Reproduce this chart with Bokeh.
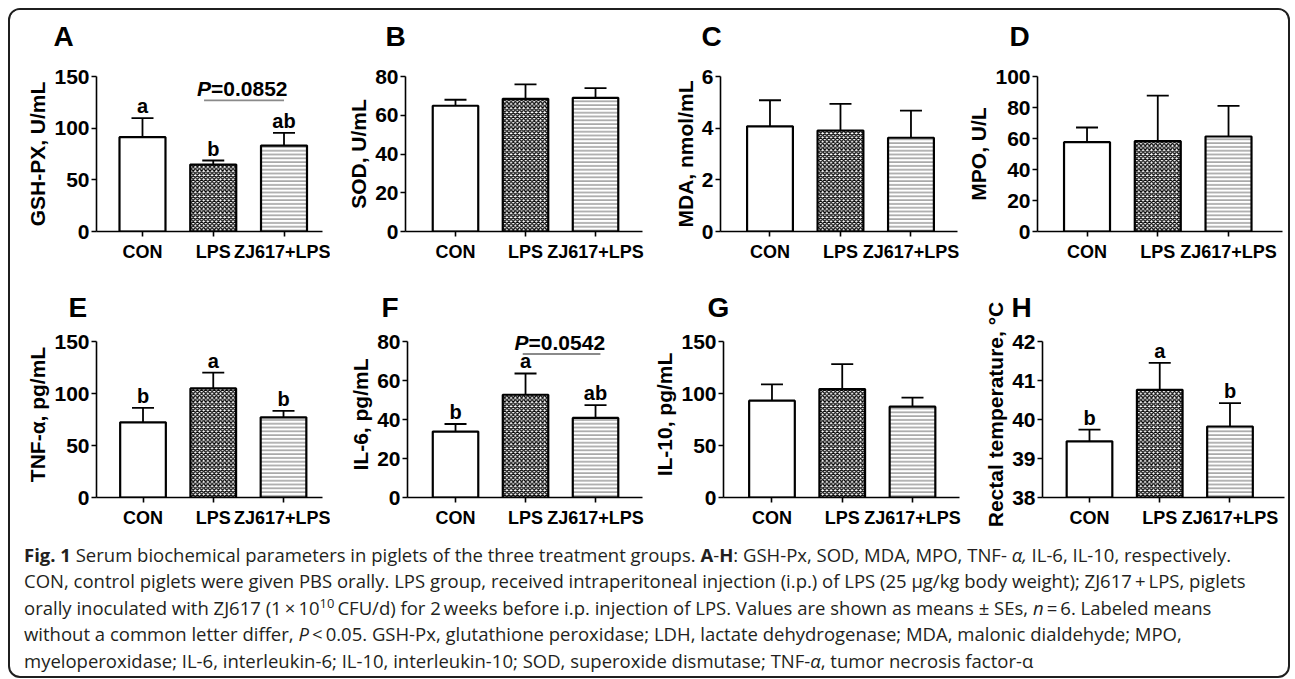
from bokeh.plotting import figure
from bokeh.models import (ColumnDataSource, Whisker, TeeHead, LabelSet,
                          FixedTicker, Range1d, Div)
from bokeh.layouts import row, column
from bokeh.embed import file_html
from bokeh.resources import INLINE
from bokeh.core.properties import value

# ---------------- data ----------------
groups = ["CON", "LPS", "ZJ617+LPS"]

gshpx_mean = [91.3, 64.8, 83.2]
gshpx_se = [18.4, 3.9, 12.3]
gshpx_letters = ["a", "b", "ab"]

sod_mean = [64.9, 68.5, 69.0]
sod_se = [3.1, 7.4, 5.0]

mda_mean = [4.07, 3.91, 3.63]
mda_se = [1.01, 1.03, 1.05]

mpo_mean = [57.6, 58.3, 61.3]
mpo_se = [9.5, 29.4, 19.8]

tnf_mean = [72.3, 104.9, 77.1]
tnf_se = [13.8, 15.1, 6.1]
tnf_letters = ["b", "a", "b"]

il6_mean = [33.8, 52.7, 40.8]
il6_se = [3.9, 10.9, 6.6]
il6_letters = ["b", "a", "ab"]

il10_mean = [93.1, 104.3, 87.3]
il10_se = [15.6, 24.0, 8.7]

temp_mean = [39.44, 40.76, 39.82]
temp_se = [0.30, 0.69, 0.60]
temp_letters = ["b", "a", "b"]

# P-value brackets: (text, x_from, x_to, y)
gshpx_p = ("=0.0852", 1.87, 3.0, 126.8)
il6_p = ("=0.0542", 1.96, 3.07, 73.6)

panels = [
    dict(letter="A", ylabel="GSH-PX, U/mL", mean=gshpx_mean, se=gshpx_se,
         yticks=[0, 50, 100, 150], sig=gshpx_letters, pval=gshpx_p),
    dict(letter="B", ylabel="SOD, U/mL", mean=sod_mean, se=sod_se,
         yticks=[0, 20, 40, 60, 80], sig=None, pval=None),
    dict(letter="C", ylabel="MDA, nmol/mL", mean=mda_mean, se=mda_se,
         yticks=[0, 2, 4, 6], sig=None, pval=None),
    dict(letter="D", ylabel="MPO, U/L", mean=mpo_mean, se=mpo_se,
         yticks=[0, 20, 40, 60, 80, 100], sig=None, pval=None),
    dict(letter="E", ylabel="TNF-\u03b1, pg/mL", mean=tnf_mean, se=tnf_se,
         yticks=[0, 50, 100, 150], sig=tnf_letters, pval=None),
    dict(letter="F", ylabel="IL-6, pg/mL", mean=il6_mean, se=il6_se,
         yticks=[0, 20, 40, 60, 80], sig=il6_letters, pval=il6_p),
    dict(letter="G", ylabel="IL-10, pg/mL", mean=il10_mean, se=il10_se,
         yticks=[0, 50, 100, 150], sig=None, pval=None),
    dict(letter="H", ylabel="Rectal temperature, \u00b0C", mean=temp_mean, se=temp_se,
         yticks=[38, 39, 40, 41, 42], sig=temp_letters, pval=None),
]

# ---------------- layout / style ----------------
geom = [
    dict(left=86, fw=226, right=8, xr=(0.350, 3.544), lab=-43),
    dict(left=75, fw=237, right=8, xr=(0.286, 3.671), lab=-20),
    dict(left=70, fw=237, right=5, xr=(0.298, 3.660), lab=-19),
    dict(left=75, fw=245, right=4, xr=(0.300, 3.763), lab=-28),
    dict(left=86, fw=226, right=8, xr=(0.338, 3.555), lab=-28),
    dict(left=77, fw=235, right=8, xr=(0.314, 3.671), lab=-26),
    dict(left=71, fw=236, right=5, xr=(0.310, 3.669), lab=-16),
    dict(left=78, fw=242, right=4, xr=(0.331, 3.776), lab=-31),
]
# head: extra frame space (px) above the top tick, so labels there are not clipped
row_v = [dict(top=84, fh=155, bottom=34, tstand=50, shift=-18, head=0),
         dict(top=76, fh=156, bottom=43, tstand=38, shift=0, head=10)]

group_style = [
    dict(),
    dict(hatch_pattern="diagonal_cross", hatch_color="black", hatch_scale=4.2, hatch_weight=1.3),
    dict(hatch_pattern="horizontal_line", hatch_color="#6a6a6a", hatch_scale=3.8, hatch_weight=1.0),
]

FONT = "Liberation Sans"
BAR_W = 0.65


def make_panel(cfg, g, v):
    y0, y1 = cfg["yticks"][0], cfg["yticks"][-1]
    head = v["head"]
    y_top = y1 + head * (y1 - y0) / v["fh"]
    p = figure(frame_width=g["fw"], frame_height=v["fh"] + head,
               min_border_left=g["left"], min_border_right=g["right"],
               min_border_top=v["top"] - head, min_border_bottom=v["bottom"],
               x_range=Range1d(*g["xr"]), y_range=Range1d(y0, y_top),
               toolbar_location=None, output_backend="svg", title=cfg["letter"])
    p.title.text_font = FONT
    p.title.text_font_size = "28px"
    p.title.text_font_style = "bold"
    p.title.text_color = "black"
    p.title.align = "left"
    p.title.offset = g["lab"]
    p.title.standoff = v["tstand"] - 2 * head
    p.outline_line_color = None
    p.xgrid.visible = False
    p.ygrid.visible = False
    p.background_fill_color = "white"
    p.border_fill_color = "white"

    xs = [i + 1 for i in range(len(groups))]

    if cfg["pval"]:
        txt, xa, xb, yy = cfg["pval"]
        xc = (xa + xb) / 2
        psrc = ColumnDataSource(dict(x0=[xa], x1=[xb], y=[yy], xc=[xc],
                                     ptxt=["P"], rest=[txt]))
        p.segment(x0="x0", y0="y", x1="x1", y1="y", source=psrc,
                  line_color="#8a8a8a", line_width=1.8)
        p.add_layout(LabelSet(source=psrc, x="xc", y="y", text="ptxt",
                              x_offset=-33, y_offset=4, text_align="right",
                              text_baseline="alphabetic", text_font=value(FONT),
                              text_font_size="21px", text_font_style="bold italic",
                              text_color="black"))
        p.add_layout(LabelSet(source=psrc, x="xc", y="y", text="rest",
                              x_offset=-33, y_offset=4, text_align="left",
                              text_baseline="alphabetic", text_font=value(FONT),
                              text_font_size="21px", text_font_style="bold",
                              text_color="black"))

    for i, st in enumerate(group_style):
        src = ColumnDataSource(dict(x=[xs[i]], top=[cfg["mean"][i]]))
        p.vbar(x="x", top="top", bottom=y0, width=BAR_W, source=src,
               fill_color="white", line_color="black", line_width=2.2, **st)

    upper = [m + s for m, s in zip(cfg["mean"], cfg["se"])]
    esrc = ColumnDataSource(dict(x=xs, mean=cfg["mean"], upper=upper,
                                 sig=cfg["sig"] if cfg["sig"] else [""] * 3))
    wh = Whisker(source=esrc, base="x", lower="mean", upper="upper",
                 line_width=1.8, line_color="black",
                 upper_head=TeeHead(size=22, line_width=1.8, line_color="black"),
                 lower_head=None, level="overlay")
    p.add_layout(wh)

    if cfg["sig"]:
        p.add_layout(LabelSet(source=esrc, x="x", y="upper", text="sig",
                              y_offset=5, text_align="center",
                              text_baseline="alphabetic", text_font=value(FONT),
                              text_font_size="20px", text_font_style="bold",
                              text_color="black"))

    # axes
    p.xaxis.ticker = FixedTicker(ticks=xs)
    p.xaxis.major_label_overrides = {x: gname for x, gname in zip(xs, groups)}
    p.yaxis.ticker = FixedTicker(ticks=cfg["yticks"])
    p.yaxis.bounds = (y0, y1)
    p.yaxis.axis_label = cfg["ylabel"]
    for ax in (p.xaxis[0], p.yaxis[0]):
        ax.axis_line_width = 1.6
        ax.axis_line_color = "black"
        ax.major_tick_line_width = 1.6
        ax.major_tick_line_color = "black"
        ax.major_tick_out = 5
        ax.major_tick_in = 0
        ax.minor_tick_line_color = None
        ax.major_label_text_font = FONT
        ax.major_label_text_font_style = "bold"
        ax.major_label_text_color = "black"
    p.xaxis.major_label_text_font_size = "18px"
    p.xaxis.major_label_standoff = 5
    p.yaxis.major_label_text_font_size = "21px"
    p.yaxis.major_label_standoff = 2
    p.yaxis.axis_label_text_font = FONT
    p.yaxis.axis_label_text_font_size = "21px"
    p.yaxis.axis_label_text_font_style = "bold"
    p.yaxis.axis_label_text_color = "black"
    p.yaxis.axis_label_standoff = 2
    return p


figs = [make_panel(panels[i], geom[i], row_v[i // 4]) for i in range(8)]

caption_html = (
    '<div style="font-family: \'Open Sans\', Lato, sans-serif; font-size: 18.5px; '
    'line-height: 26.4px; white-space: nowrap; color: #231f20;">'
    '<b>Fig. 1</b> Serum biochemical parameters in piglets of the three treatment groups. '
    '<b>A</b>-<b>H</b>: GSH-Px, SOD, MDA, MPO, TNF- <i>\u03b1,</i> IL-6, IL-10, respectively.<br>'
    'CON, control piglets were given PBS orally. LPS group, received intraperitoneal injection '
    '(i.p.) of LPS (25 \u00b5g/kg body weight); ZJ617\u2009+\u2009LPS, piglets<br>'
    'orally inoculated with ZJ617 (1\u2009\u00d7\u200910<sup style="font-size:0.7em; line-height:0;">10</sup>\u2009CFU/d) '
    'for 2\u2009weeks before i.p. injection of LPS. Values are shown as means \u00b1 SEs, '
    '<i>n</i>\u2009=\u20096. Labeled means<br>'
    'without a common letter differ, <i>P</i>\u2009&lt;\u20090.05. GSH-Px, glutathione peroxidase; '
    'LDH, lactate dehydrogenase; MDA, malonic dialdehyde; MPO,<br>'
    'myeloperoxidase; IL-6, interleukin-6; IL-10, interleukin-10; SOD, superoxide dismutase; '
    'TNF-<i>\u03b1</i>, tumor necrosis factor-\u03b1'
    '</div>'
)
caption = Div(text=caption_html, width=1260, height=134, margin=(2, 0, 0, 14))

layout = column(
    row(*figs[:4], margin=(row_v[0]["shift"], 0, 0, 0)),
    row(*figs[4:]),
    caption,
    margin=(8, 0, 0, 8),
    styles={"border": "2px solid #1f1f1f", "border-radius": "12px",
            "overflow": "hidden", "background": "white"},
)

open("out.html", "w").write(file_html(layout, INLINE))
